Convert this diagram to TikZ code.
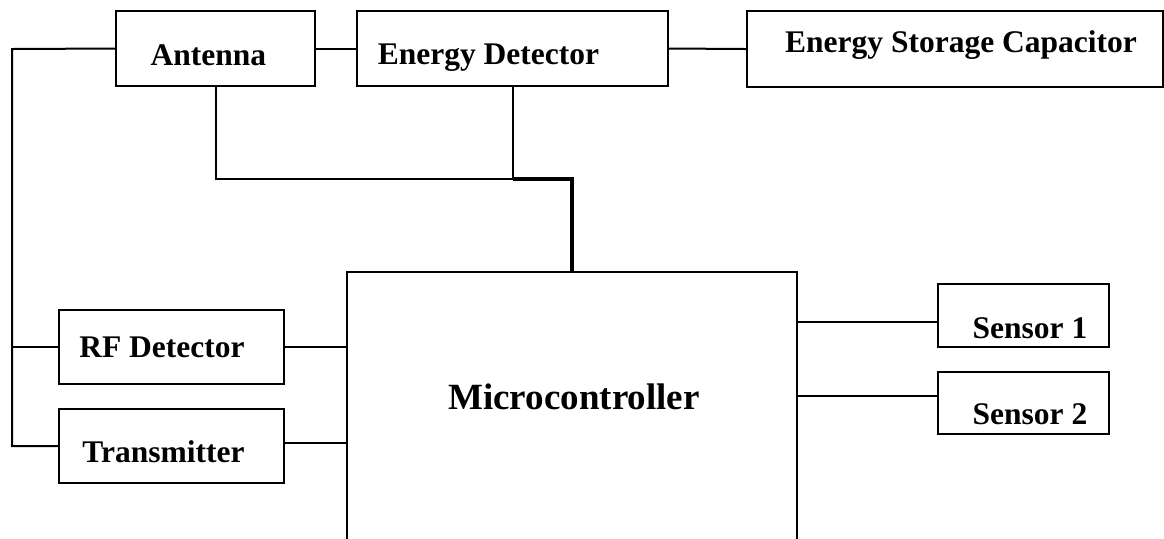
\documentclass[tikz,border=0pt]{standalone}
\usepackage{fontspec}
\setmainfont{Liberation Serif}

\begin{document}
\begin{tikzpicture}[x=0.5pt, y=-0.5pt,
  box/.style={draw, line width=1pt, inner sep=0pt},
  txt/.style={font=\bfseries\fontsize{15.75}{18}\selectfont, anchor=base, inner sep=0pt},
  big/.style={font=\bfseries\fontsize{18.5}{22}\selectfont, anchor=base, inner sep=0pt},
  wire/.style={line width=1pt},
  trunk/.style={line width=1.6pt}
]
\clip (0,0) rectangle (1164,538);
\node[box, minimum width=99.5pt, minimum height=37.5pt] (ant) at (215.5,48.5) {};
\node[box, minimum width=155.5pt, minimum height=37.5pt] (ed) at (512.5,48.5) {};
\node[box, minimum width=208pt, minimum height=38pt] (esc) at (955,49) {};
\node[box, minimum width=112.5pt, minimum height=37pt] (rf) at (171.5,347) {};
\node[box, minimum width=112.5pt, minimum height=37pt] (tx) at (171.5,446) {};
\node[box, minimum width=85.5pt, minimum height=31.5pt] (s1) at (1023.5,315.5) {};
\node[box, minimum width=85.5pt, minimum height=31pt] (s2) at (1023.5,403) {};
\node[box, minimum width=225pt, minimum height=164pt] (mcu) at (572,436) {};
\node[txt] (antt) at (208.5,65) {Antenna};
\node[txt] (edt) at (488.5,64) {Energy Detector};
\node[txt] (esct) at (961,52) {Energy Storage Capacitor};
\node[txt] (rft) at (162,357) {RF Detector};
\node[txt] (txt) at (163.5,462) {Transmitter};
\node[txt] (s1t) at (1030,338) {Sensor 1};
\node[txt] (s2t) at (1030,424) {Sensor 2};
\node[big] (mcut) at (574,409) {Microcontroller};
\coordinate (bus) at (12,49);
\coordinate (j) at (572,179);
\coordinate (txin) at ([yshift=1.5pt]tx.east);
\coordinate (s1in) at ([yshift=-3.25pt]s1.west);
\coordinate (s2in) at ([yshift=3.5pt]s2.west);
\draw[wire] (ant.east) -- (ed.west);
\draw[wire] (ed.east) -- (esc.west);
\draw[wire] (ant.west) -- (bus) |- (tx.west);
\draw[wire] (rf.west) -- (bus |- rf.west);
\draw[wire] (ant.south) |- (ed.south |- j) -- (ed.south);
\draw[trunk] (ed.south |- j) -- (j) -- (j |- mcu.north);
\draw[wire] (rf.east) -- (mcu.west |- rf.east);
\draw[wire] (txin) -- (txin -| mcu.west);
\draw[wire] (s1in -| mcu.east) -- (s1in);
\draw[wire] (s2in -| mcu.east) -- (s2in);
\end{tikzpicture}
\end{document}
